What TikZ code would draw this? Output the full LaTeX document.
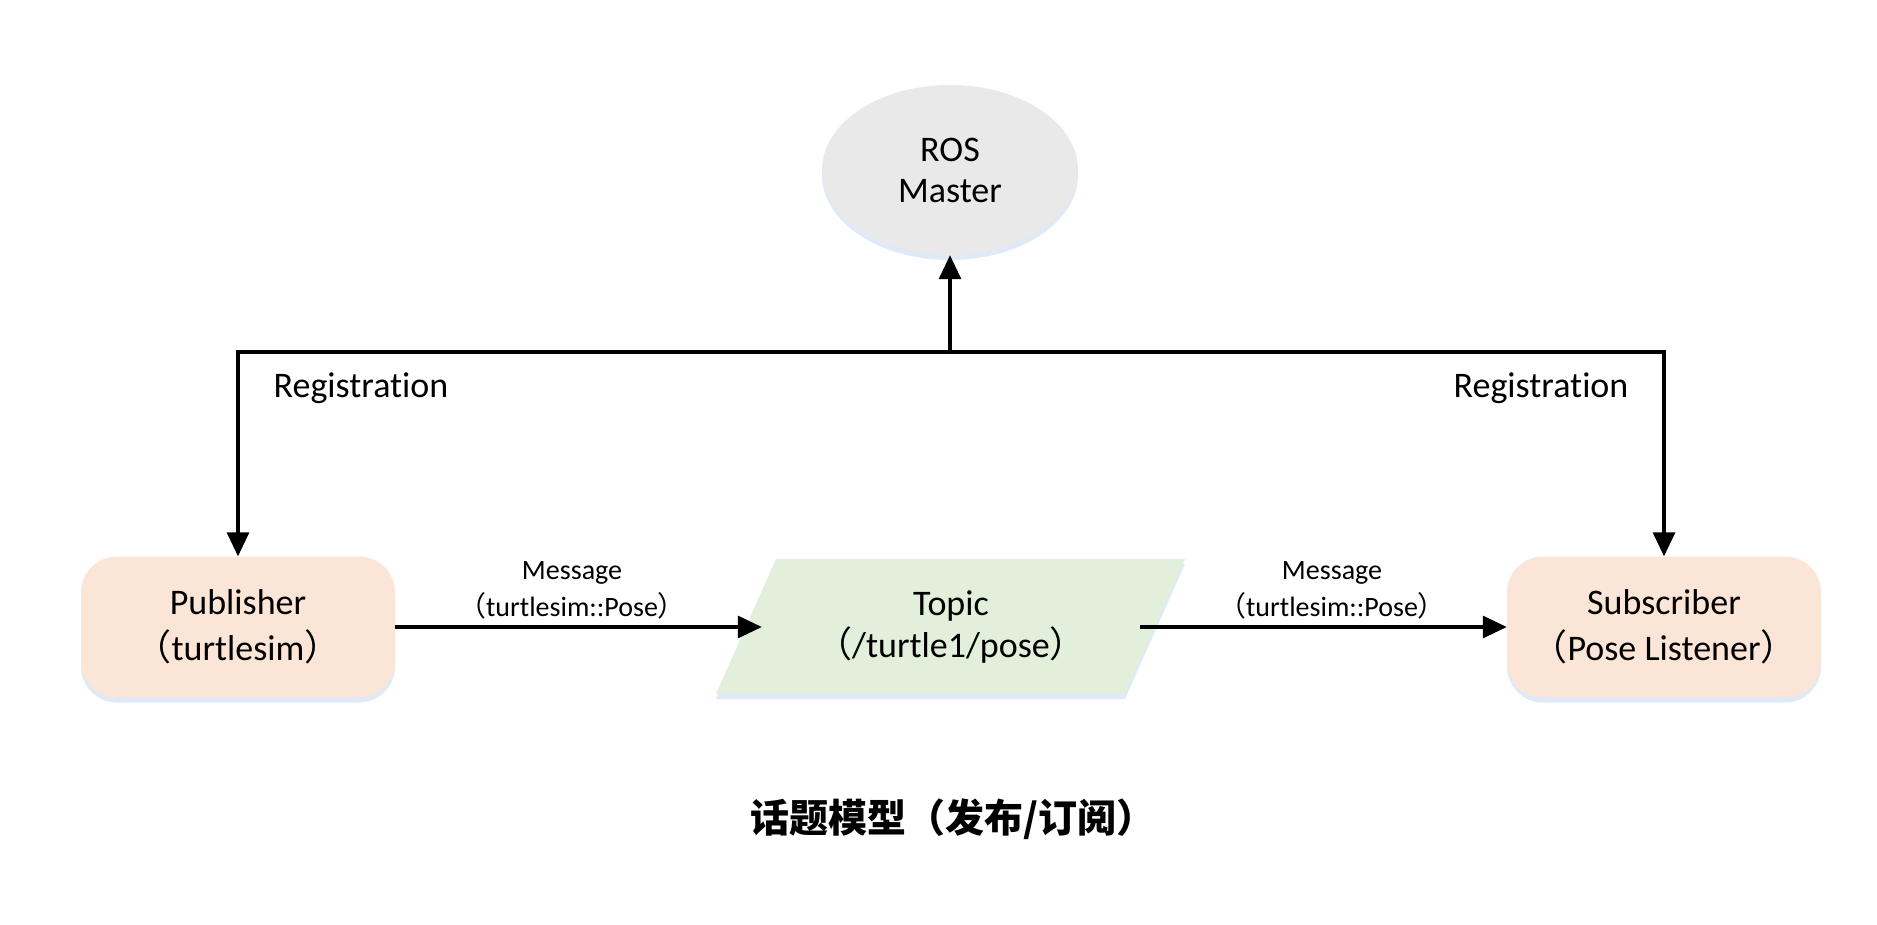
\documentclass[tikz,border=0pt]{standalone}
\usepackage{fontspec}
\setmainfont[Ligatures=NoCommon]{Carlito}
\newfontfamily\cjk{Noto Sans CJK SC}
\usetikzlibrary{arrows.meta,shapes.geometric,shadows}
\definecolor{peach}{HTML}{FBE5D6}
\definecolor{mint}{HTML}{E2EFDA}
\definecolor{greyfill}{HTML}{E9E9E9}
\definecolor{glow}{HTML}{C9DDF2}
\newcommand{\lp}{{\cjk （}}
\newcommand{\rp}{{\cjk ）}}
\tikzset{
  glowshadow/.style={drop shadow={shadow xshift=0pt, shadow yshift=-5pt, fill=glow, opacity=0.6}},
  bigtext/.style={font=\fontsize{36}{46}\selectfont, align=center, text=black},
  smalltext/.style={font=\fontsize{28}{37}\selectfont, align=center, text=black},
  procbox/.style={bigtext, rectangle, rounded corners=36pt, fill=peach, minimum width=314pt, minimum height=141pt, inner sep=0pt, glowshadow},
  masterbox/.style={bigtext, ellipse, fill=greyfill, minimum width=256pt, minimum height=170pt, inner sep=0pt, glowshadow, font=\fontsize{36}{41}\selectfont},
  topicbox/.style={bigtext, rectangle, minimum width=378pt, minimum height=135pt, inner sep=0pt, font=\fontsize{36}{42}\selectfont},
  topicfill/.style={fill=mint, glowshadow},
  wire/.style={line width=3.2pt, draw=black},
  arr/.style={wire, -{Triangle[length=24pt,width=22pt]}},
}
\begin{document}
\begin{tikzpicture}[x=1pt,y=-1pt]
\useasboundingbox (0,0) rectangle (1877,925);
\fill[white] (0,0) rectangle (1877,925);

\node[masterbox] (master) at (950,170) {ROS\\Master};
\node[procbox] (pub) at (238,627) {Publisher\\\lp turtlesim\rp};
\node[procbox] (sub) at (1664,627) {Subscriber\\\lp Pose Listener\rp};
\path[topicfill] (776,559) -- (1185,559) -- (1125,694) -- (716,694) -- cycle;
\node[topicbox] (topic) at (951,627) {Topic\\\lp/turtle1/pose\rp};

\coordinate (busM) at (950,352);

\draw[arr] (busM) -- (master.south);
\draw[arr] (busM) -| (pub.north);
\draw[arr] (busM) -| (sub.north);
\draw[arr] (pub.east) -- (topic.west);
\draw[arr] (topic.east) -- (sub.west);

\node[bigtext] (regL) at (361,388) {Registration};
\node[bigtext] (regR) at (1541,388) {Registration};
\node[smalltext] (msgL) at (572,590) {Message\\\lp turtlesim::Pose\rp};
\node[smalltext] (msgR) at (1332,590) {Message\\\lp turtlesim::Pose\rp};

\node[font=\cjk\bfseries\fontsize{39}{47}\selectfont, text=black] (cap) at (953,819) {话题模型（发布/订阅）};
\end{tikzpicture}
\end{document}
